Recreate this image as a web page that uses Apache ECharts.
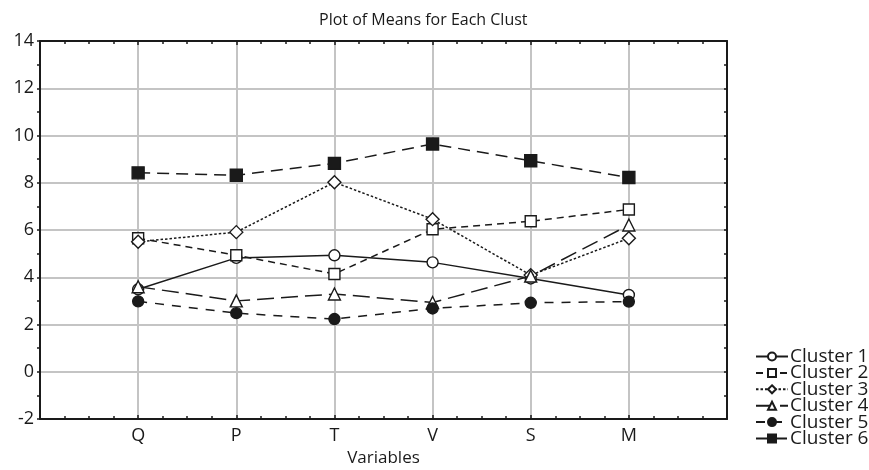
<!DOCTYPE html>
<html>
<head>
<meta charset="utf-8">
<script src="https://cdn.jsdelivr.net/npm/echarts@6/dist/echarts.min.js"></script>
<style>
html,body{margin:0;padding:0;background:#fff;}
#chart{width:869px;height:470px;}
</style>
</head>
<body>
<div id="chart"></div>
<script>
const categories = ['Q', 'P', 'T', 'V', 'S', 'M'];
const seriesNames = ['Cluster 1', 'Cluster 2', 'Cluster 3', 'Cluster 4', 'Cluster 5', 'Cluster 6'];
const cluster1 = [3.49, 4.82, 4.93, 4.63, 3.95, 3.25];
const cluster2 = [5.65, 4.93, 4.14, 6.03, 6.37, 6.87];
const cluster3 = [5.50, 5.91, 8.02, 6.46, 4.09, 5.65];
const cluster4 = [3.60, 3.00, 3.29, 2.93, 4.05, 6.21];
const cluster5 = [2.98, 2.48, 2.23, 2.68, 2.92, 2.97];
const cluster6 = [8.42, 8.32, 8.82, 9.64, 8.93, 8.22];
const yTicks = [-2, 0, 2, 4, 6, 8, 10, 12, 14];

const FONT = 'Open Sans';
const INK = '#1a1a1a';
const GRID = '#c4c4c4';

const styles = [
  { symbol: 'circle', size: 11, fill: '#fff', dash: 'solid' },
  { symbol: 'rect', size: 11, fill: '#fff', dash: [7, 5] },
  { symbol: 'diamond', size: 13, fill: '#fff', dash: [2.5, 2] },
  { symbol: 'triangle', size: 12, fill: '#fff', dash: [17, 7] },
  { symbol: 'circle', size: 11, fill: INK, dash: [9, 8] },
  { symbol: 'rect', size: 12, fill: INK, dash: [12, 7] }
];
const allData = [cluster1, cluster2, cluster3, cluster4, cluster5, cluster6];

const series = allData.map((vals, k) => ({
  name: seriesNames[k],
  type: 'line',
  data: vals.map((v, i) => [i + 1, v]),
  symbol: styles[k].symbol,
  symbolSize: styles[k].size,
  showAllSymbol: true,
  lineStyle: { color: INK, width: 1.5, type: styles[k].dash },
  itemStyle: { color: styles[k].fill, borderColor: INK, borderWidth: 1.4 },
  emphasis: { disabled: true },
  animation: false,
  z: 3 + k
}));

const chart = echarts.init(document.getElementById('chart'), null, { renderer: 'canvas' });
chart.setOption({
  backgroundColor: '#fff',
  animation: false,
  textStyle: { fontFamily: FONT },
  title: {
    text: 'Plot of Means for Each Clust',
    left: 314, top: 7,
    textStyle: { fontFamily: FONT, fontSize: 16, fontWeight: 'normal', color: INK }
  },
  legend: {
    orient: 'vertical',
    left: 750, top: 342,
    itemWidth: 32, itemHeight: 10, itemGap: -2.6,
    data: seriesNames,
    textStyle: { fontFamily: FONT, fontSize: 19, color: INK, padding: [0, 0, 0, -3] },
    selectedMode: false
  },
  grid: { left: 40, right: 142, top: 41, bottom: 51, containLabel: false, outerBoundsMode: 'none' },
  xAxis: [{
    type: 'value', min: 0, max: 7, interval: 1,
    name: 'Variables', nameLocation: 'middle', nameGap: 31,
    nameTextStyle: { fontFamily: FONT, fontSize: 17, color: INK },
    axisLine: { show: true, onZero: false, lineStyle: { color: INK, width: 2 } },
    axisTick: { show: true, inside: true, length: 4, lineStyle: { color: INK, width: 1.5 } },
    minorTick: { show: true, splitNumber: 4, length: 3, lineStyle: { color: INK, width: 1.5 } },
    axisLabel: { fontFamily: FONT, fontSize: 18, color: INK, margin: 8,
      formatter: v => categories[v - 1] || '' },
    splitLine: { show: true, lineStyle: { color: GRID, width: 2 } }
  }, {
    type: 'value', min: 0, max: 7, interval: 1, position: 'top',
    axisLine: { show: true, onZero: false, lineStyle: { color: INK, width: 2 } },
    axisTick: { show: true, inside: true, length: 4, lineStyle: { color: INK, width: 1.5 } },
    minorTick: { show: true, splitNumber: 4, length: 3, lineStyle: { color: INK, width: 1.5 } },
    axisLabel: { show: false }, splitLine: { show: false }
  }],
  yAxis: [{
    type: 'value', min: -2, max: 14, interval: 2,
    axisLine: { show: true, onZero: false, lineStyle: { color: INK, width: 2 } },
    axisTick: { show: true, inside: false, length: 3, lineStyle: { color: INK, width: 1.5 } },
    minorTick: { show: true, splitNumber: 2, length: 3, lineStyle: { color: INK, width: 1.5 } },
    axisLabel: { fontFamily: FONT, fontSize: 18, color: INK, margin: 6,
      formatter: v => yTicks.includes(v) ? String(v) : '' },
    splitLine: { show: true, lineStyle: { color: GRID, width: 2 } }
  }, {
    type: 'value', min: -2, max: 14, interval: 2, position: 'right',
    axisLine: { show: true, onZero: false, lineStyle: { color: INK, width: 2 } },
    axisTick: { show: true, inside: true, length: 3, lineStyle: { color: INK, width: 1.5 } },
    minorTick: { show: true, splitNumber: 2, length: 3, lineStyle: { color: INK, width: 1.5 } },
    axisLabel: { show: false }, splitLine: { show: false }
  }],
  series: series
});
</script>
</body>
</html>
